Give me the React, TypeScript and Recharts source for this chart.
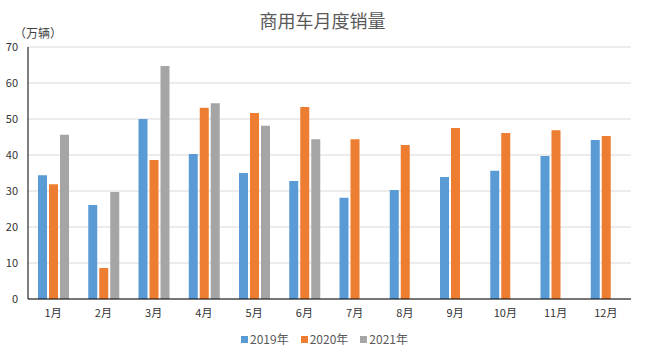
import React from "react";
import {
  BarChart,
  Bar,
  XAxis,
  YAxis,
  CartesianGrid,
  Legend,
} from "recharts";

const months = ["1月", "2月", "3月", "4月", "5月", "6月", "7月", "8月", "9月", "10月", "11月", "12月"];
const sales2019 = [34.4, 26.1, 50.0, 40.3, 35.0, 32.8, 28.1, 30.3, 33.9, 35.6, 39.7, 44.2];
const sales2020 = [31.9, 8.6, 38.6, 53.1, 51.7, 53.3, 44.4, 42.8, 47.5, 46.1, 46.9, 45.3];
const sales2021 = [45.6, 29.7, 64.7, 54.4, 48.1, 44.4, null, null, null, null, null, null];
const yTicks = [0, 10, 20, 30, 40, 50, 60, 70];

const data = months.map((m, i) => ({
  month: m,
  y2019: sales2019[i],
  y2020: sales2020[i],
  y2021: sales2021[i],
}));

const font = '"Noto Sans CJK SC", "Noto Sans", sans-serif';

// legend drawn by hand so the spacing matches the Excel look
const renderLegend = (props: any) => {
  const items = props.payload || [];
  return (
    <div
      style={{
        display: "flex",
        justifyContent: "center",
        gap: 12,
        position: "relative",
        top: -8,
        left: 9,
        fontSize: 12,
        lineHeight: "16px",
        color: "#595959",
        fontFamily: font,
      }}
    >
      {items.map((it: any) => (
        <div key={it.value} style={{ display: "flex", alignItems: "center" }}>
          <span
            style={{
              display: "inline-block",
              width: 7,
              height: 7,
              background: it.color,
              marginRight: 2,
            }}
          />
          <span>{it.value}</span>
        </div>
      ))}
    </div>
  );
};

export default function App() {
  return (
    <div
      style={{
        position: "absolute",
        left: 0,
        top: 0,
        width: 645,
        height: 358,
        background: "#fff",
        fontFamily: font,
      }}
    >
      <div
        style={{
          position: "absolute",
          top: 7,
          width: 645,
          textAlign: "center",
          fontSize: 18,
          color: "#595959",
          lineHeight: "26px",
        }}
      >
        商用车月度销量
      </div>
      <div
        style={{
          position: "absolute",
          left: 14,
          top: 25,
          fontSize: 12,
          color: "#404040",
          lineHeight: "16px",
        }}
      >
        （万辆）
      </div>
      <BarChart
        width={645}
        height={358}
        data={data}
        margin={{ top: 47, right: 14, left: 0, bottom: 0 }}
        barSize={9}
        barGap={2}
        style={{ fontFamily: font }}
      >
        <CartesianGrid stroke="#d9d9d9" vertical={false} />
        <YAxis
          width={28}
          domain={[0, 70]}
          ticks={yTicks}
          tickLine={false}
          tickSize={0}
          tickMargin={10}
          axisLine={{ stroke: "#000" }}
          tick={{ fontSize: 11, fill: "#333" }}
          interval={0}
        />
        <XAxis
          dataKey="month"
          height={40}
          tickLine={false}
          tickSize={0}
          tickMargin={10}
          axisLine={{ stroke: "#000" }}
          tick={{ fontSize: 11, fill: "#333" }}
          interval={0}
        />
        <Legend verticalAlign="bottom" height={19} content={renderLegend} />
        <Bar dataKey="y2019" name="2019年" fill="#5B9BD5" isAnimationActive={false} />
        <Bar dataKey="y2020" name="2020年" fill="#ED7D31" isAnimationActive={false} />
        <Bar dataKey="y2021" name="2021年" fill="#A5A5A5" isAnimationActive={false} />
      </BarChart>
    </div>
  );
}
